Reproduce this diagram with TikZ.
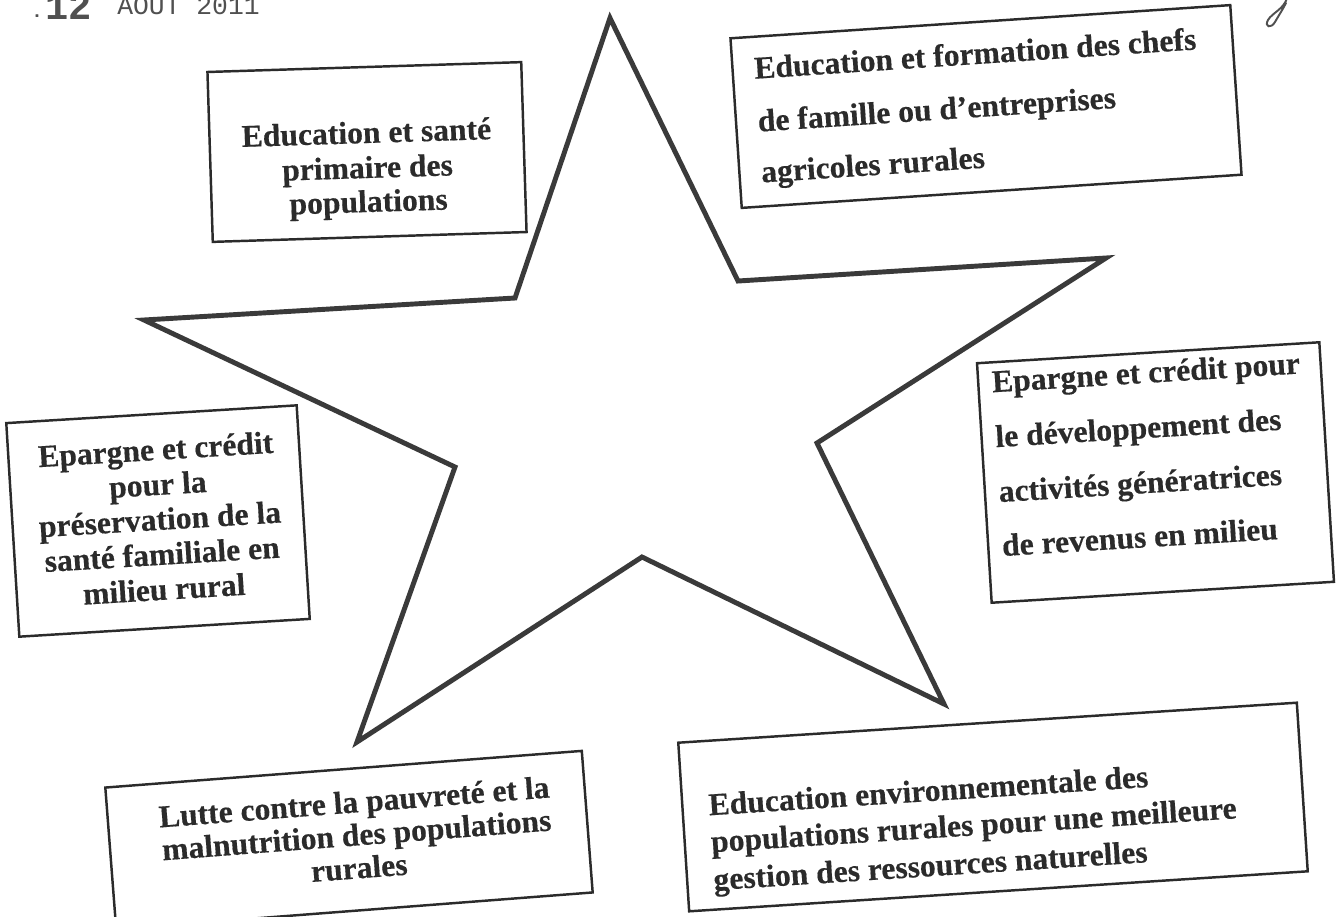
\documentclass[tikz,border=0pt]{standalone}
\usepackage{fontspec}
\setmainfont{Liberation Serif}[BoldFeatures={FakeBold=0.4}]
\newfontfamily\stampfont{Liberation Mono}
\definecolor{ink}{HTML}{2B2B2B}
\definecolor{starink}{HTML}{3A3A3A}
\definecolor{stampink}{HTML}{505050}
\tikzset{
  boxst/.style={draw=ink, line width=1.4pt, inner sep=0pt, outer sep=0pt, transform shape},
  lineC/.style={font=\bfseries\fontsize{18}{20}\selectfont, text=ink, inner sep=0pt, anchor=base, transform shape},
  lineL/.style={lineC, anchor=base west},
  stampst/.style={text=stampink, inner sep=0pt, anchor=base west},
}
\begin{document}
\begin{tikzpicture}[x=0.02cm,y=-0.02cm]
\fill[white] (0,0) rectangle (1340,917);
\useasboundingbox (0,0) rectangle (1340,917);

% star
\draw[starink, line width=2.8pt, line join=miter, miter limit=25]
  (610,18) -- (738,281) -- (1106,258) -- (817,443) -- (944,704) -- (642,557)
  -- (357,742) -- (455,467) -- (144,320) -- (515,298) -- cycle;

% box 1
\begin{scope}[shift={(367,152)}, rotate=1.8]
  \node[boxst, minimum width=6.28cm, minimum height=3.4cm] (b1) at (0,0) {};
  \node[lineC] (b1a) at (0,-9) {Education et santé};
  \node[lineC] (b1b) at (0,26) {primaire des};
  \node[lineC] (b1c) at (0,60) {populations};
\end{scope}

% box 2
\begin{scope}[shift={(986,106.5)}, rotate=3.8]
  \node[boxst, minimum width=10.02cm, minimum height=3.4cm] (b2) at (0,0) {};
  \node[lineL] (b2a) at (-229,-43) {Education et formation des chefs};
  \node[lineL] (b2b) at (-229,10) {de famille ou d’entreprises};
  \node[lineL] (b2c) at (-229,61) {agricoles rurales};
\end{scope}

% box 3
\begin{scope}[shift={(158,521)}, rotate=3.5]
  \node[boxst, minimum width=5.82cm, minimum height=4.28cm] (b3) at (0,0) {};
  \node[lineC] (b3a) at (2,-61) {Epargne et crédit};
  \node[lineC] (b3b) at (2,-26) {pour la};
  \node[lineC] (b3c) at (2,9) {préservation de la};
  \node[lineC] (b3d) at (2,44) {santé familiale en};
  \node[lineC] (b3e) at (2,79) {milieu rural};
\end{scope}

% box 4
\begin{scope}[shift={(1155.5,472.5)}, rotate=3.5]
  \node[boxst, minimum width=6.86cm, minimum height=4.8cm] (b4) at (0,0) {};
  \node[lineL] (b4a) at (-158,-90) {Epargne et crédit pour};
  \node[lineL] (b4b) at (-158,-35) {le développement des};
  \node[lineL] (b4c) at (-158,20) {activités génératrices};
  \node[lineL] (b4d) at (-158,74) {de revenus en milieu};
\end{scope}

% box 5
\begin{scope}[shift={(349,840)}, rotate=4.4]
  \node[boxst, minimum width=9.56cm, minimum height=2.84cm] (b5) at (0,0) {};
  \node[lineC] (b5a) at (8,-27) {Lutte contre la pauvreté et la};
  \node[lineC] (b5b) at (8,6) {malnutrition des populations};
  \node[lineC] (b5c) at (8,39) {rurales};
\end{scope}

% box 6
\begin{scope}[shift={(993,807)}, rotate=3.7]
  \node[boxst, minimum width=12.4cm, minimum height=3.38cm] (b6) at (0,0) {};
  \node[lineL] (b6a) at (-284,-10) {Education environnementale des};
  \node[lineL] (b6b) at (-284,27) {populations rurales pour une meilleure};
  \node[lineL] (b6c) at (-284,65) {gestion des ressources naturelles};
\end{scope}

% stamp at top left (cut by the page edge)
\node[stampst, font=\sffamily\bfseries\fontsize{12}{12}\selectfont, anchor=base] (stampdot) at (37,17) {.};
\node[stampst, font=\stampfont\bfseries\fontsize{22}{22}\selectfont] (stampday) at (45,19) {12};
\node[stampst, font=\stampfont\fontsize{15}{15}\selectfont] (stampmonth) at (117,14) {AOUT 2011};

% handwritten mark at top right
\draw[stampink, line width=1.1pt, line cap=round]
  (1287,-2) .. controls (1284,9) and (1272,13) .. (1268,20)
  .. controls (1264,27) and (1271,29) .. (1275,22)
  .. controls (1279,15) and (1283,9) .. (1286,3);
\end{tikzpicture}
\end{document}
